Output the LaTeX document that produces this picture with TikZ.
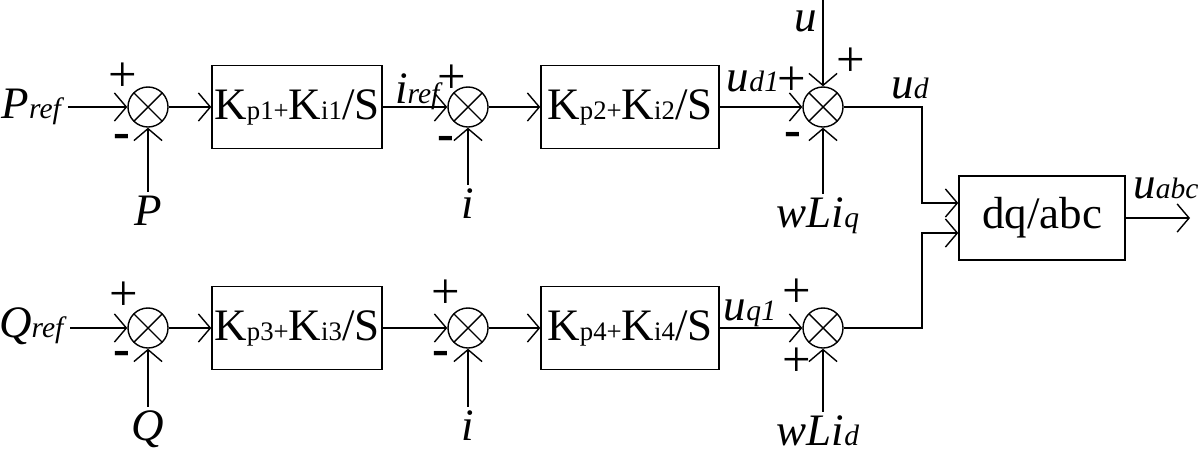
\documentclass[tikz,border=0pt]{standalone}
\usepackage{fontspec}
\setmainfont{Liberation Serif}
\usetikzlibrary{arrows.meta}
\newcommand{\gain}[2]{K{\fontsize{19}{19}\selectfont p#1+}K{\fontsize{19}{19}\selectfont i#2}/S}
\newcommand{\sym}[2]{\textit{#1}{\fontsize{21}{21}\selectfont\textit{#2}}}
\begin{document}
\begin{tikzpicture}[x=0.025cm,y=-0.025cm,line width=1pt,
  >={Straight Barb[length=8.5pt,width=20pt]},
  sumjn/.style={draw,circle,minimum size=1cm,inner sep=0pt,
    path picture={\draw (path picture bounding box.north west) -- (path picture bounding box.south east)
                        (path picture bounding box.north east) -- (path picture bounding box.south west);}},
  blk/.style={draw,minimum height=2.075cm,inner sep=0pt,font=\fontsize{32}{34}\selectfont},
  lab/.style={inner sep=2pt,anchor=base,font=\fontsize{32}{34}\selectfont},
  sgn/.style={inner sep=0pt,font=\fontsize{36}{36}\selectfont}]
\useasboundingbox (0,0) rectangle (1200,461);
% upper loop
\node(pref) at (33,118) [lab] {\sym{P}{ref}};
\node(s1) at (148,107) [sumjn] {};
\node(p) at (148,225) [lab] {\textit{P}};
\node(b1) at (297,107) [blk,minimum width=4.25cm] {\gain{1}{1}};
\node(iref) at (419,103) [lab] {\sym{i}{ref}};
\node(s2) at (468,107) [sumjn] {};
\node(i1) at (468,218) [lab] {\textit{i}};
\node(b2) at (630,107) [blk,minimum width=4.45cm] {\gain{2}{2}};
\node(ud1) at (753,91) [lab] {\sym{u}{d1}};
\node(s3) at (823,107) [sumjn] {};
\coordinate(ut) at (823,0);
\node(u) at (806,31) [lab,inner sep=0pt] {\textit{u}};
\node(wlq) at (818,227) [lab] {\sym{wLi}{q}};
\node(ud) at (910,98) [lab] {\sym{u}{d}};
\node at (123,77) [sgn] {+};
\node at (122,141) [sgn] {\textbf{-}};
\node at (452,79) [sgn] {+};
\node at (446,143) [sgn] {\textbf{-}};
\node at (792,81) [sgn] {+};
\node at (793,139) [sgn] {\textbf{-}};
\node at (851,62) [sgn] {+};
% lower loop
\node(qref) at (33,337) [lab] {\sym{Q}{ref}};
\node(s4) at (148,328) [sumjn] {};
\node(q) at (148,440) [lab] {\textit{Q}};
\node(b3) at (297,328) [blk,minimum width=4.25cm] {\gain{3}{3}};
\node(s5) at (468,328) [sumjn] {};
\node(i2) at (468,440) [lab] {\textit{i}};
\node(b4) at (630,328) [blk,minimum width=4.45cm] {\gain{4}{4}};
\node(uq1) at (750,320) [lab] {\sym{u}{q1}};
\node(s6) at (823,328) [sumjn] {};
\node(wld) at (818,445) [lab] {\sym{wLi}{d}};
\node at (124,296) [sgn] {+};
\node at (122,358) [sgn] {\textbf{-}};
\node at (446,294) [sgn] {+};
\node at (441,358) [sgn] {\textbf{-}};
\node at (797,293) [sgn] {+};
\node at (797,362) [sgn] {+};
% transformation
\node(dq) at (1042,218) [blk,minimum width=4.15cm,minimum height=2.1cm] {dq/abc};
\coordinate(uo) at (1190,218);
\node(uabc) at (1166,198) [lab] {\sym{u}{abc}};
%
\draw[->](pref.east |- s1) -- (s1);
\draw[->](p.north) -- (s1);
\draw[->](s1) -- (b1);
\draw[->](b1) -- (s2);
\draw[->](i1.north) -- (s2);
\draw[->](s2) -- (b2);
\draw[->](b2) -- (s3);
\draw[->](ut) -- (s3);
\draw[->](s3 |- wlq.north) -- (s3);
\draw[->](s3) -- (922,107) |- ([yshift=0.375cm]dq.west);
\draw[->](qref.east |- s4) -- (s4);
\draw[->](q.north) -- (s4);
\draw[->](s4) -- (b3);
\draw[->](b3) -- (s5);
\draw[->](i2.north) -- (s5);
\draw[->](s5) -- (b4);
\draw[->](b4) -- (s6);
\draw[->](s6 |- wld.north) -- (s6);
\draw[->](s6) -- (922,328) |- ([yshift=-0.375cm]dq.west);
\draw[->](dq) -- (uo);
\end{tikzpicture}
\end{document}
